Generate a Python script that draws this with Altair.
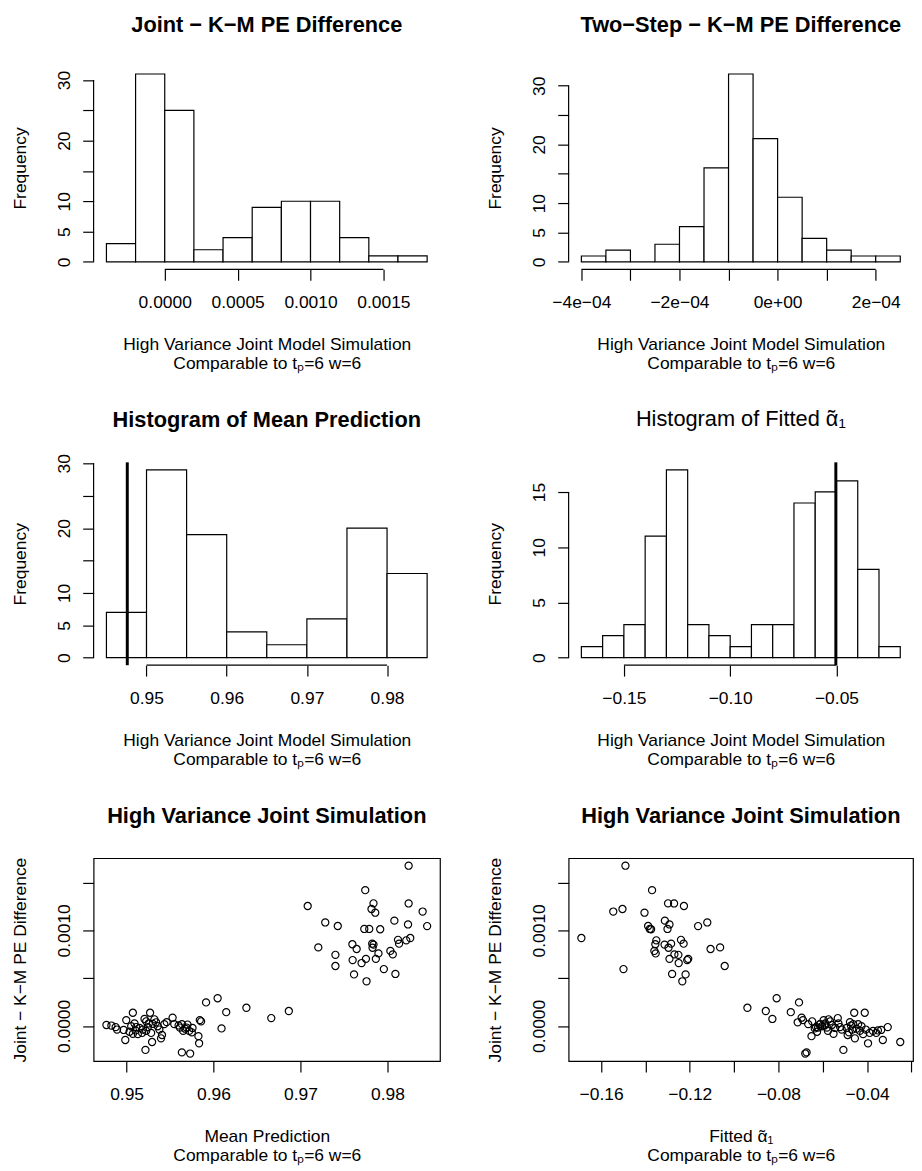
import altair as alt
import pandas as pd

FONT = "Liberation Sans"
FS = 17.6
TFS = 22
LW = 1.2
W_L, W_R, H = 350, 348, 205
M = "\u2212"

# ---------------- histogram data (bin edges and counts) -------------
h1_breaks = [-0.0004, -0.0002, 0.0, 0.0002, 0.0004, 0.0006, 0.0008, 0.0010, 0.0012, 0.0014, 0.0016, 0.0018]
h1_counts = [3, 31, 25, 2, 4, 9, 10, 10, 4, 1, 1]
h1_xticks = [0.0, 0.0005, 0.0010, 0.0015]
h1_xlabels = ["0.0000", "0.0005", "0.0010", "0.0015"]

h2_breaks = [-0.0004, -0.00035, -0.0003, -0.00025, -0.0002, -0.00015, -0.0001, -0.00005,
             0.0, 0.00005, 0.0001, 0.00015, 0.0002, 0.00025]
h2_counts = [1, 2, 0, 3, 6, 16, 32, 21, 11, 4, 2, 1, 1]
h2_xticks = [-0.0004, -0.0003, -0.0002, -0.0001, 0.0, 0.0001, 0.0002]
h2_xlabels = [M + "4e" + M + "04", "", M + "2e" + M + "04", "", "0e+00", "", "2e" + M + "04"]

h3_breaks = [0.945, 0.950, 0.955, 0.960, 0.965, 0.970, 0.975, 0.980, 0.985]
h3_counts = [7, 29, 19, 4, 2, 6, 20, 13]
h3_xticks = [0.95, 0.96, 0.97, 0.98]
h3_xlabels = ["0.95", "0.96", "0.97", "0.98"]
true_mean_prediction = 0.9476

h4_breaks = [-0.17, -0.16, -0.15, -0.14, -0.13, -0.12, -0.11, -0.10, -0.09, -0.08,
             -0.07, -0.06, -0.05, -0.04, -0.03, -0.02]
h4_counts = [1, 2, 3, 11, 17, 3, 2, 1, 3, 3, 14, 15, 16, 8, 1]
h4_xticks = [-0.15, -0.10, -0.05]
h4_xlabels = [M + "0.15", M + "0.10", M + "0.05"]
true_alpha = -0.0503

freq_ticks = [0, 5, 10, 15, 20, 25, 30]
freq_labels = ["0", "5", "10", "", "20", "", "30"]
h4_yticks = [0, 5, 10, 15]
h4_ylabels = ["0", "5", "10", "15"]

# ---------------- scatter data (100 simulations) ----------------
pe_diff = [
    0.001677, 0.001421, 0.001283, 0.001282, 0.001255, 0.001224, 0.001197, 0.001185, 0.001102, 0.001083,
    0.001062, 0.001046, 0.001045, 0.001015, 0.001015, 0.001012, 0.000920, 0.000901, 0.000896, 0.000861,
    0.000861, 0.000855, 0.000851, 0.000822, 0.000818, 0.000805, 0.000785, 0.000759, 0.000749, 0.000744,
    0.000702, 0.000702, 0.000689, 0.000658, 0.000627, 0.000595, 0.000544, 0.000539, 0.000467,
    0.000290, 0.000246, 0.000190, 0.000156, 0.000144, 0.000138, 0.000138, 0.000086, 0.000082, 0.000073,
    0.000069, 0.000061, 0.000061, 0.000048, 0.000048, 0.000040, 0.000038, 0.000026, 0.000026, 0.000022,
    0.000019, 0.000019, 0.000019, 0.000014, 0.000010, 0.000005, 0.000004, -0.000003, -0.000003, -0.000012,
    -0.000012, -0.000012, -0.000017, -0.000017, -0.000021, -0.000021, -0.000026, -0.000029, -0.000038, -0.000038,
    -0.000038, -0.000042, -0.000047, -0.000052, -0.000052, -0.000052, -0.000061, -0.000067, -0.000073, -0.000073,
    -0.000083, -0.000086, -0.000095, -0.000107, -0.000130, -0.000147, -0.000168, -0.000182, -0.000251, -0.000277,
    -0.000289,
]
mean_pred = [
    0.98244, 0.97745, 0.97840, 0.98244, 0.97083, 0.97817, 0.98405, 0.97860, 0.98080, 0.97285,
    0.98237, 0.97429, 0.98457, 0.97734, 0.97791, 0.97917, 0.98263, 0.98122, 0.98217, 0.97825,
    0.98134, 0.97597, 0.97840, 0.97205, 0.97829, 0.97646, 0.98034, 0.97897, 0.98062, 0.97402,
    0.97753, 0.97867, 0.97600, 0.97703, 0.97402, 0.97959, 0.98092, 0.97616, 0.97760,
    0.96047, 0.95914, 0.96378, 0.96866, 0.96146, 0.95072, 0.95270, 0.95529, 0.96664, 0.95206,
    0.95320, 0.94996, 0.95842, 0.95225, 0.95857, 0.95461, 0.95339, 0.95091, 0.95255, 0.95301,
    0.95434, 0.95548, 0.95636, 0.95701, 0.94768, 0.95598, 0.94825, 0.95053, 0.95358, 0.94874,
    0.95110, 0.95244, 0.95689, 0.95613, 0.95149, 0.95758, 0.96092, 0.95674, 0.94890, 0.95187,
    0.95377, 0.94966, 0.95103, 0.95225, 0.95651, 0.95720, 0.95034, 0.95750, 0.95179, 0.95282,
    0.95072, 0.95129, 0.95407, 0.95826, 0.95396, 0.94985, 0.95293, 0.95834, 0.95217, 0.95636,
    0.95731,
]
alpha_fit = [
    -0.14902, -0.13701, -0.12980, -0.12707, -0.12262, -0.15036, -0.15451, -0.14042, -0.13122, -0.11209,
    -0.12915, -0.13879, -0.11624, -0.13805, -0.13004, -0.13745, -0.16890, -0.12396, -0.13508, -0.12841,
    -0.12277, -0.13553, -0.13137, -0.10630, -0.12959, -0.11061, -0.13597, -0.13538, -0.12692, -0.12514,
    -0.12915, -0.12069, -0.12114, -0.12499, -0.10423, -0.14991, -0.12796, -0.12188, -0.12336,
    -0.08079, -0.07070, -0.09399, -0.08569, -0.07441, -0.04579, -0.04104, -0.06952, -0.05320, -0.08272,
    -0.05736, -0.06893, -0.05958, -0.06477, -0.05661, -0.04771, -0.07130, -0.05884, -0.05291, -0.06106,
    -0.06655, -0.04401, -0.04623, -0.06151, -0.05587, -0.05914, -0.04727, -0.06032, -0.04252, -0.06299,
    -0.05216, -0.03066, -0.06210, -0.05810, -0.05439, -0.04920, -0.06359, -0.04475, -0.05142, -0.04668,
    -0.04059, -0.03362, -0.03511, -0.05765, -0.04326, -0.03733, -0.06255, -0.04816, -0.03881, -0.03585,
    -0.05513, -0.04178, -0.04875, -0.06507, -0.04549, -0.03288, -0.02502, -0.03956, -0.05068, -0.06729,
    -0.06789,
]
sc_yticks = [0.0, 0.0005, 0.0010, 0.0015]
sc_ylabels = ["0.0000", "", "0.0010", ""]
p5_xticks = [0.95, 0.96, 0.97, 0.98]
p5_xlabels = ["0.95", "0.96", "0.97", "0.98"]
p6_xticks = [-0.16, -0.14, -0.12, -0.10, -0.08, -0.06, -0.04, -0.02]
p6_xlabels = [M + "0.16", "", M + "0.12", "", M + "0.08", "", M + "0.04", ""]

SUB = "Comparable to t\u209a=6 w=6"
XTITLE_SIM = ["High Variance Joint Model Simulation", SUB]
ALPHA = "\u1fb6\u2081"   # alpha with tilde (perispomeni), subscript 1
PE_TITLE = "Joint " + M + " K" + M + "M PE Difference"


def label_expr(values, labels):
    expr = "''"
    for v, l in reversed(list(zip(values, labels))):
        expr = f"abs(datum.value - ({v!r})) < 1e-9 ? '{l}' : ({expr})"
    return expr


def padded(lo, hi):
    r = hi - lo
    return [lo - 0.04 * r, hi + 0.04 * r]


def x_axis(ticks, labels, title):
    return alt.Axis(
        values=ticks, labelExpr=label_expr(ticks, labels), title=title,
        domain=False, grid=False, ticks=True, tickSize=11, tickWidth=LW, tickColor="black",
        labelFont=FONT, labelFontSize=FS, labelColor="black", labelBaseline="alphabetic",
        labelAlign="center", labelPadding=27.7, labelFlush=False, labelOverlap=False,
        titleFont=FONT, titleFontSize=FS, titleFontWeight="normal", titleColor="black",
        titleBaseline="alphabetic", titleY=81, titleLineHeight=19, titleAlign="center",
    )


def y_axis(ticks, labels, title):
    return alt.Axis(
        values=ticks, labelExpr=label_expr(ticks, labels), title=title,
        domain=False, grid=False, ticks=True, tickSize=11, tickWidth=LW, tickColor="black",
        labelFont=FONT, labelFontSize=FS, labelColor="black", labelAngle=270,
        labelAlign="center", labelBaseline="alphabetic", labelPadding=13.5,
        labelFlush=False, labelOverlap=False,
        titleFont=FONT, titleFontSize=FS, titleFontWeight="normal", titleColor="black",
        titleAngle=270, titleBaseline="alphabetic", titleAlign="center", titleX=-68.5,
    )


def title_params(text, bold=True, offset=13):
    return alt.TitleParams(
        text=text, font=FONT, fontSize=TFS, fontWeight="bold" if bold else "normal",
        color="black", anchor="middle", frame="group", baseline="alphabetic", offset=offset,
    )


def hist_panel(breaks, counts, xticks, xlabels, yticks, ylabels, title, width,
               bold=True, vline=None, title_offset=13):
    df = pd.DataFrame({"lo": breaks[:-1], "hi": breaks[1:], "n": counts})
    xs = alt.Scale(domain=padded(breaks[0], breaks[-1]), nice=False, zero=False)
    ys = alt.Scale(domain=padded(0, max(counts)), nice=False, zero=False)
    xa = x_axis(xticks, xlabels, XTITLE_SIM)
    ya = y_axis(yticks, ylabels, "Frequency")
    bars = alt.Chart(df).mark_rect(fill="white", stroke="black", strokeWidth=LW).encode(
        x=alt.X("lo:Q", scale=xs, axis=xa),
        x2="hi:Q",
        y=alt.Y("n:Q", scale=ys, axis=ya),
        y2=alt.datum(0),
    )
    xline = alt.Chart(pd.DataFrame({"lo": [xticks[0]], "hi": [xticks[-1]]})).mark_rule(
        color="black", strokeWidth=LW).encode(
        x=alt.X("lo:Q", scale=xs, axis=xa), x2="hi:Q", y=alt.value(H))
    yline = alt.Chart(pd.DataFrame({"n": [yticks[0]], "top": [yticks[-1]]})).mark_rule(
        color="black", strokeWidth=LW).encode(
        y=alt.Y("n:Q", scale=ys, axis=ya), y2="top:Q", x=alt.value(0))
    layers = [bars, xline, yline]
    if vline is not None:
        layers.append(
            alt.Chart(pd.DataFrame({"lo": [vline]})).mark_rule(color="black", strokeWidth=3).encode(
                x=alt.X("lo:Q", scale=xs, axis=xa), y=alt.value(0), y2=alt.value(H))
        )
    return alt.layer(*layers).properties(
        width=width, height=H, title=title_params(title, bold, title_offset))


def scatter_panel(xvals, xticks, xlabels, xtitle, width):
    df = pd.DataFrame({"x": xvals, "y": pe_diff})
    xs = alt.Scale(domain=padded(min(xvals), max(xvals)), nice=False, zero=False)
    ys = alt.Scale(domain=padded(min(pe_diff), max(pe_diff)), nice=False, zero=False)
    return alt.Chart(df).mark_point(
        shape="circle", filled=False, color="black", strokeWidth=1.2, size=52, opacity=1
    ).encode(
        x=alt.X("x:Q", scale=xs, axis=x_axis(xticks, xlabels, xtitle)),
        y=alt.Y("y:Q", scale=ys, axis=y_axis(sc_yticks, sc_ylabels, PE_TITLE)),
    ).properties(
        width=width, height=H, title=title_params("High Variance Joint Simulation"),
        view=alt.ViewBackground(stroke="black", strokeWidth=LW),
    )


p1 = hist_panel(h1_breaks, h1_counts, h1_xticks, h1_xlabels, freq_ticks, freq_labels,
                "Joint " + M + " K" + M + "M PE Difference", W_L)
p2 = hist_panel(h2_breaks, h2_counts, h2_xticks, h2_xlabels, freq_ticks, freq_labels,
                "Two" + M + "Step " + M + " K" + M + "M PE Difference", W_R)
p3 = hist_panel(h3_breaks, h3_counts, h3_xticks, h3_xlabels, freq_ticks, freq_labels,
                "Histogram of Mean Prediction", W_L, vline=true_mean_prediction, title_offset=4.5)
p4 = hist_panel(h4_breaks, h4_counts, h4_xticks, h4_xlabels, h4_yticks, h4_ylabels,
                "Histogram of Fitted " + ALPHA, W_R, bold=False, vline=true_alpha)
p5 = scatter_panel(mean_pred, p5_xticks, p5_xlabels, ["Mean Prediction", SUB], W_L)
p6 = scatter_panel(alpha_fit, p6_xticks, p6_xlabels, ["Fitted " + ALPHA, SUB], W_R)

chart = alt.concat(
    p1, p2, p3, p4, p5, p6, columns=2,
    spacing={"row": 195, "column": 130}, bounds="flush",
).properties(
    padding={"left": 2.5, "top": 0, "right": 0, "bottom": 0}, background="white",
).configure_view(stroke=None)

chart.save("out.html", embed_options={"renderer": "svg", "actions": False})
